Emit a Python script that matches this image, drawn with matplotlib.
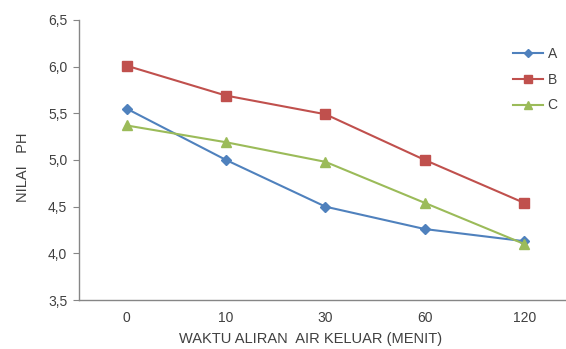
import numpy as np
import matplotlib.pyplot as plt

plt.rcParams['font.family'] = ['Liberation Sans', 'DejaVu Sans']

# data
waktu = ['0', '10', '30', '60', '120']
ph_a = [5.55, 5.00, 4.50, 4.26, 4.13]
ph_b = [6.01, 5.69, 5.49, 5.00, 4.54]
ph_c = [5.37, 5.19, 4.98, 4.54, 4.10]
yticks = [3.5, 4.0, 4.5, 5.0, 5.5, 6.0, 6.5]

fig = plt.figure(figsize=(5.66, 3.49), dpi=100)
ax = fig.add_axes([0.1396, 0.1404, 0.8604, 0.8023])

x = np.arange(len(waktu))
ax.plot(x, ph_a, color='#4F81BD', marker='D', markersize=5, lw=1.5, label='A')
ax.plot(x, ph_b, color='#C0504D', marker='s', markersize=6.5, lw=1.5, label='B')
ax.plot(x, ph_c, color='#9BBB59', marker='^', markersize=7, lw=1.5, label='C')

ax.set_xlim(-0.48, 4.42)
ax.set_ylim(3.5, 6.5)
ax.set_xticks(x)
ax.set_xticklabels(waktu)
ax.set_yticks(yticks)
ax.set_yticklabels([f'{v:.1f}'.replace('.', ',') for v in yticks])

for s in ['top', 'right']:
    ax.spines[s].set_visible(False)
for s in ['left', 'bottom']:
    ax.spines[s].set_color('#868686')
    ax.spines[s].set_linewidth(1.0)
ax.tick_params(axis='y', length=4.5, pad=4, color='#868686', labelsize=10, labelcolor='#404040')
ax.tick_params(axis='x', length=0, pad=8, labelsize=10, labelcolor='#404040')

ax.set_xlabel('WAKTU ALIRAN  AIR KELUAR (MENIT)', fontsize=10.5, color='#404040', labelpad=5)
ax.set_ylabel('NILAI   PH', fontsize=10.5, color='#404040', labelpad=13)
ax.xaxis.label.set_x(0.475)
ax.yaxis.label.set_y(0.475)

leg = ax.legend(loc='upper left', bbox_to_anchor=(0.891, 0.904), frameon=False,
                borderaxespad=0, borderpad=0,
                fontsize=10, handlelength=2.15, handletextpad=0.35, labelspacing=0.85,
                markerscale=0.8)
for t in leg.get_texts():
    t.set_color('#404040')

fig.savefig('out.png', dpi=100)
